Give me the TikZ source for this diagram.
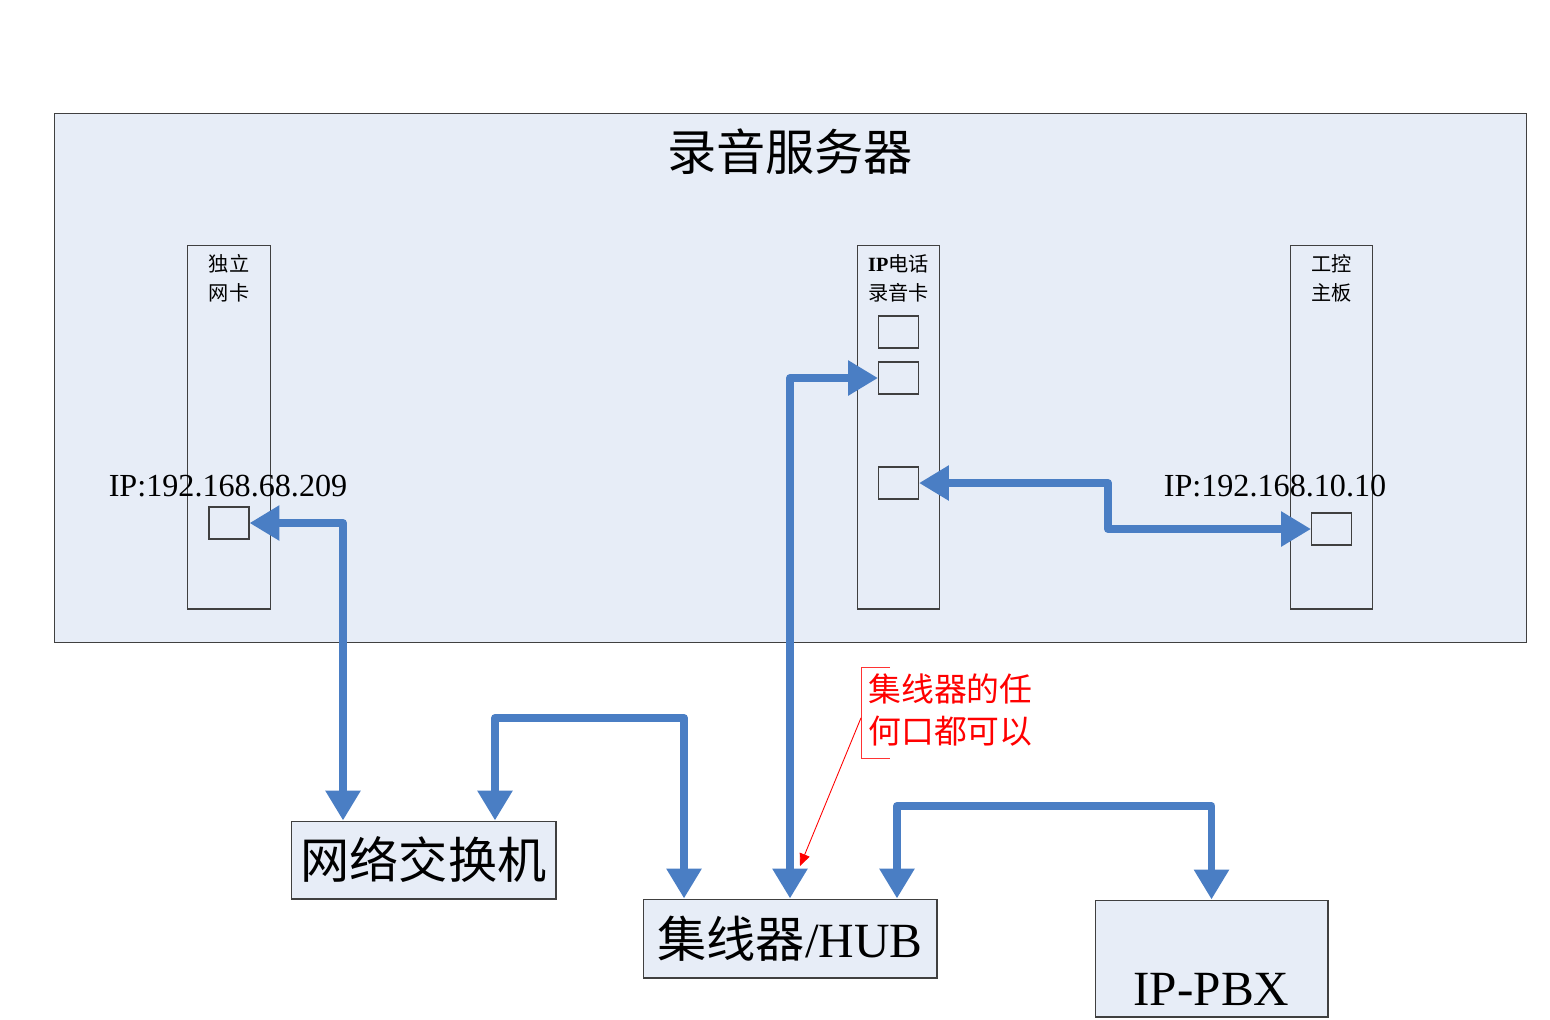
\documentclass[tikz,border=0pt]{standalone}
\usepackage{fontspec}
\setmainfont{Liberation Serif}
\newfontfamily\cjk{Noto Sans CJK SC}
\usetikzlibrary{arrows.meta,positioning}
\definecolor{panel}{HTML}{E7EDF7}
\definecolor{wire}{HTML}{4A7EC4}
\definecolor{frame}{HTML}{404040}
\tikzset{
  box/.style={draw=frame, fill=panel, line width=0.6pt, inner sep=0pt},
  card/.style={draw=frame, line width=0.6pt, minimum width=1.65cm, minimum height=7.28cm},
  port/.style={draw=frame, fill=panel, line width=0.6pt, minimum width=0.8cm, minimum height=0.64cm, inner sep=0pt},
  cardtext/.style={align=center, inner sep=0pt, font=\cjk\fontsize{11.5}{16.4}\selectfont},
  big/.style={font=\fontsize{28}{34}\selectfont},
  iplabel/.style={font=\fontsize{18.3}{21}\selectfont},
  link/.style={draw=wire, line width=4.5pt, line join=round,
    {Triangle[length=17pt,width=19pt]}-{Triangle[length=17pt,width=19pt]}},
  note/.style={anchor=north west, align=left, text=red, inner xsep=0.14cm, inner ysep=0pt,
    minimum height=1.82cm, font=\cjk\fontsize{18.7}{23.8}\selectfont}
}
\begin{document}
\begin{tikzpicture}[x=0.02cm, y=-0.02cm]
\useasboundingbox (0,0) rectangle (1550,1019);
% server
\node[box, minimum width=29.46cm, minimum height=10.6cm] (server) at (790.5,378) {};
\node[font=\cjk\fontsize{28}{34}\selectfont] (title) at (790,152) {录音服务器};
% cards
\node[card] (nic) at (229,427) {};
\node[card] (rec) at (898.5,427) {};
\node[card] (mb) at (1331.5,427) {};
\node[cardtext, below=0.2cm of nic.north] (nicCap) {独立\\网卡};
\node[cardtext, below=0.2cm of rec.north] (recCap) {{\rmfamily\bfseries IP}电话\\录音卡};
\node[cardtext, below=0.2cm of mb.north] (mbCap) {工控\\主板};
% ports
\node[port] (lport) at (229,523) {};
\node[port] (p1) at (898.5,332) {};
\node[port] (p2) at (898.5,378) {};
\node[port] (p3) at (898.5,483) {};
\node[port] (mport) at (1331.5,529) {};
\node[iplabel] (nicIp) at (228,486) {IP:192.168.68.209};
\node[iplabel] (mbIp) at (1275,486) {IP:192.168.10.10};
% devices below
\node[box, big, minimum width=5.3cm, minimum height=1.56cm] (sw) at (423.5,860) {{\cjk 网络交换机}};
\node[box, big, minimum width=5.88cm, minimum height=1.58cm] (hub) at (790,938.5) {{\cjk 集线器}/HUB};
\node[box, minimum width=4.66cm, minimum height=2.34cm] (pbx) at (1211.5,958.5) {};
\node[big, anchor=base] (pbxText) at ([yshift=0.24cm]pbx.south) {IP-PBX};
% bends
\coordinate (k1) at (343,523);
\coordinate (k2) at (590,718);
\coordinate (k4) at (1108,507);
\coordinate (k5) at (1050,806);
\coordinate (hubport) at (800,866);
% links
\draw[link] (lport.east) -| (sw.north -| k1);
\draw[link] ([xshift=1.43cm]sw.north) |- (k2) -| ([xshift=-2.12cm]hub.north);
\draw[link] (hub.north) |- (p2.west);
\draw[link] (p3.east) -| (k4) |- (mport.west);
\draw[link] ([xshift=2.14cm]hub.north) |- (k5) -| (pbx.north);
% callout
\node[note, text depth=0.16cm] (note) at (861,667) {集线器的任\\何口都可以};
\draw[red!80, line width=0.5pt] ([xshift=0.58cm]note.north west) -- (note.north west) -- (note.south west) -- ++(0.58cm,0);
\draw[red, line width=0.5pt, -{Triangle[length=7pt,width=6pt]}] ([yshift=-0.1cm]note.west) -- (hubport);
\end{tikzpicture}
\end{document}
